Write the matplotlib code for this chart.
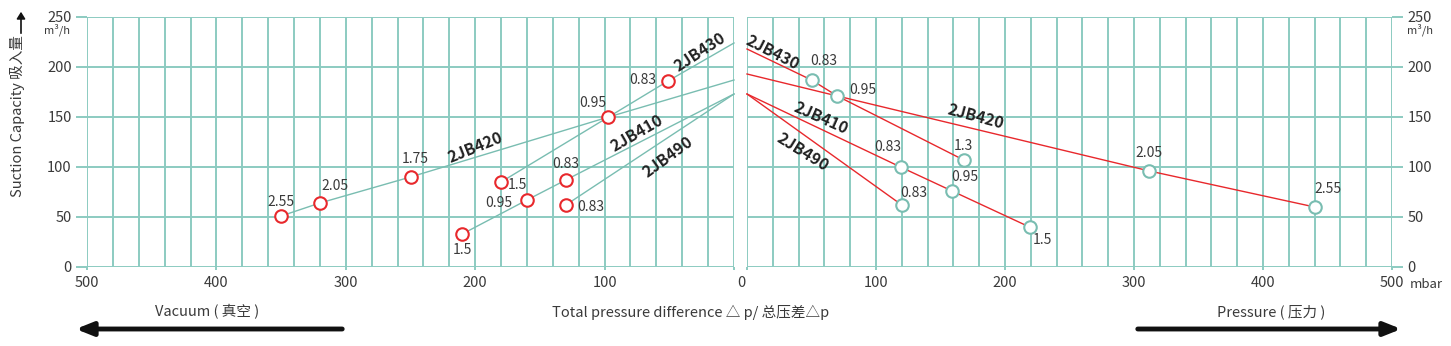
import matplotlib
matplotlib.use("Agg")
import matplotlib.pyplot as plt
import numpy as np

plt.rcParams['font.family'] = ['Noto Sans CJK SC', 'DejaVu Sans']

# ---- data: vacuum side (mbar, m3/h, kW labels) ----
vac_models = ["2JB430", "2JB420", "2JB410", "2JB490"]
vac_x = {
    "2JB430": [180, 97, 51, 0],
    "2JB420": [350, 320, 250, 97, 0],
    "2JB410": [210, 160, 130, 0],
    "2JB490": [130, 0],
}
vac_y = {
    "2JB430": [85, 150, 186, 224],
    "2JB420": [51, 64, 90, 150, 187],
    "2JB410": [33, 67, 87, 173],
    "2JB490": [62, 173],
}
vac_kw = {
    "2JB430": ["1.5", "0.95", "0.83", None],
    "2JB420": ["2.55", "2.05", "1.75", None, None],
    "2JB410": ["1.5", "0.95", "0.83", None],
    "2JB490": ["0.83", None],
}

# ---- data: pressure side ----
prs_x = {
    "2JB430": [0, 50, 70, 168],
    "2JB420": [0, 70, 312, 440],
    "2JB410": [0, 119, 159, 219],
    "2JB490": [0, 120],
}
prs_y = {
    "2JB430": [218, 187, 171, 107],
    "2JB420": [193, 171, 96, 60],
    "2JB410": [173, 100, 76, 40],
    "2JB490": [173, 62],
}
prs_kw = {
    "2JB430": [None, "0.83", None, "1.3"],
    "2JB420": [None, "0.95", "2.05", "2.55"],
    "2JB410": [None, "0.83", "0.95", "1.5"],
    "2JB490": [None, "0.83"],
}

# label offsets in pixels (dx, dy up)
vac_off = {
    "2JB430": [(16, -3), (-16, 14), (-25, 1), None],
    "2JB420": [(0, 14), (15, 17), (5, 18), None, None],
    "2JB410": [(0, -16), (-28, -3), (0, 16), None],
    "2JB490": [(25, -2), None],
}
prs_off = {
    "2JB430": [None, (12, 19), None, (0, 14)],
    "2JB420": [None, (26, 6), (0, 18), (13, 18)],
    "2JB410": [None, (-13, 20), (13, 14), (13, -13)],
    "2JB490": [None, (12, 12)],
}
# model name placement (x, y, rotation)
vac_name = {"2JB430": (26, 215, 33), "2JB420": (200, 119, 22),
            "2JB410": (75, 134, 30), "2JB490": (51, 110, 36)}
prs_name = {"2JB430": (20, 214, -27), "2JB420": (177, 150, -15),
            "2JB410": (57, 149, -24), "2JB490": (43, 115, -32)}

W, H = 1451, 346
GRID = "#8ccbc1"
TEAL = "#79bdb1"
RED = "#e8282c"
TXT = "#3a3a3a"
PX = 0.72  # points per pixel at dpi 100

fig = plt.figure(figsize=(W / 100, H / 100), dpi=100)
axL = fig.add_axes([87 / W, (H - 267) / H, 647 / W, 250 / H])
axR = fig.add_axes([747 / W, (H - 267) / H, 645 / W, 250 / H])


def setup(ax, left):
    ax.set_ylim(0, 250)
    if left:
        ax.set_xlim(500, 0)
    else:
        ax.set_xlim(0, 500)
    for s in ax.spines.values():
        s.set_visible(False)
    for v in range(0, 501, 20):
        ax.axvline(v, color=GRID, lw=1.4, zorder=0)
    for v in range(0, 251, 50):
        ax.axhline(v, color=GRID, lw=1.4, zorder=0)
    ax.set_yticks(range(0, 251, 50))
    ax.set_xticks(range(0, 501, 100))
    ax.tick_params(axis='y', length=8, width=1.4, color=GRID, labelsize=10.5,
                   labelcolor=TXT, pad=3)
    ax.tick_params(axis='x', length=2.5, width=1.4, color=GRID, labelsize=10.5,
                   labelcolor=TXT, pad=4)
    ax.set_xticklabels(["" if v == 0 else str(v) for v in range(0, 501, 100)])
    if not left:
        ax.yaxis.tick_right()


setup(axL, True)
setup(axR, False)


def draw(ax, xs, ys, kws, offs, names, lcolor, mcolor):
    for m in vac_models:
        ax.plot(xs[m], ys[m], color=lcolor, lw=1.0, zorder=2, clip_on=False)
        for x, y, k, o in zip(xs[m], ys[m], kws[m], offs[m]):
            if k is None:
                continue
            ax.plot(x, y, 'o', ms=9, mfc='white', mec=mcolor, mew=1.5, zorder=4)
            ax.annotate(k, (x, y), xytext=(o[0] * PX, o[1] * PX),
                        textcoords='offset points', ha='center', va='center',
                        fontsize=10, color=TXT, zorder=5)
        nx, ny, rot = names[m]
        ax.text(nx, ny, m, rotation=rot, ha='center', va='center',
                fontsize=11.5, fontweight='bold', color='#222222',
                rotation_mode='anchor', zorder=5)


draw(axL, vac_x, vac_y, vac_kw, vac_off, vac_name, TEAL, RED)
draw(axR, prs_x, prs_y, prs_kw, prs_off, prs_name, RED, TEAL)


def ftext(px, py, s, **kw):
    fig.text(px / W, 1 - py / H, s, **kw)


ftext(741, 283, "0", ha='center', va='center', fontsize=10.5, color=TXT)
ftext(1410, 284, "mbar", ha='left', va='center', fontsize=9.5, color=TXT)
ftext(57, 30, "m³/h", ha='center', va='center', fontsize=8, color=TXT)
ftext(1420, 30, "m³/h", ha='center', va='center', fontsize=8, color=TXT)
ftext(18, 116, "Suction Capacity 吸入量", rotation=90, ha='center', va='center',
      fontsize=10.5, color=TXT)
fig.add_artist(matplotlib.patches.FancyArrowPatch(
    (21 / W, 1 - 36 / H), (21 / W, 1 - 9 / H), transform=fig.transFigure,
    arrowstyle='-|>,head_length=4,head_width=2.5', color='#111111', lw=1.2))

ftext(207, 312, "Vacuum ( 真空 )", ha='center', va='center', fontsize=10.5, color=TXT)
ftext(691, 312, "Total pressure difference △ p/ 总压差△p", ha='center',
      va='center', fontsize=10.5, color=TXT)
ftext(1271, 312, "Pressure ( 压力 )", ha='center', va='center', fontsize=10.5, color=TXT)

fig.add_artist(matplotlib.patches.FancyArrowPatch(
    (345 / W, 1 - 329 / H), (73 / W, 1 - 329 / H), transform=fig.transFigure,
    arrowstyle='-|>,head_length=10,head_width=4', color='#111111', lw=3.5))
fig.add_artist(matplotlib.patches.FancyArrowPatch(
    (1135 / W, 1 - 329 / H), (1404 / W, 1 - 329 / H), transform=fig.transFigure,
    arrowstyle='-|>,head_length=10,head_width=4', color='#111111', lw=3.5))

fig.savefig("out.png", dpi=100)
